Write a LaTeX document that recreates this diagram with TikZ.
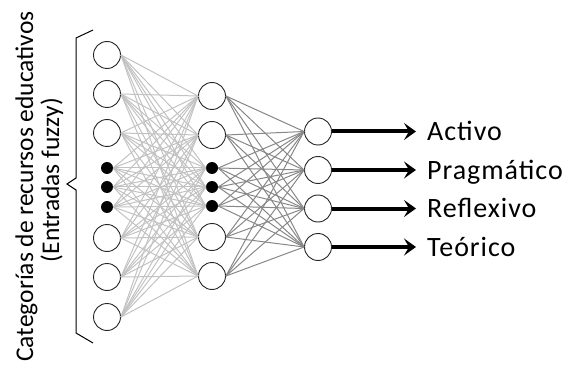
\documentclass[tikz,border=0pt]{standalone}
\usepackage{fontspec}
\setmainfont{Carlito}
\usetikzlibrary{arrows.meta}
\begin{document}
\begin{tikzpicture}[x=1pt,y=-1pt,
  neuron/.style={circle,draw=black!85,line width=0.9pt,minimum size=27pt,inner sep=0pt,fill=white},
  dotn/.style={circle,fill=black,minimum size=12pt,inner sep=0pt},
  lightw/.style={draw=black!24,line width=1pt},
  darkw/.style={draw=black!47,line width=1pt},
  outarrow/.style={line width=4pt,-{Stealth[length=12pt,width=17pt,inset=5pt]}},
  lbl/.style={anchor=base west,inner sep=0pt,font=\fontsize{28}{32}\selectfont\addfontfeatures{LetterSpace=3.5}},
  vlbl/.style={rotate=90,anchor=base,inner sep=0pt,font=\fontsize{25.5}{28}\selectfont},
  bracestyle/.style={draw=black,line width=1pt}
  ]
\useasboundingbox (0,0) rectangle (575,366);
% input layer
\node[neuron] (i1) at (107,55) {};
\node[neuron] (i2) at (107,94) {};
\node[neuron] (i3) at (107,133) {};
\node[dotn]   (i4) at (107,168) {};
\node[dotn]   (i5) at (107,187) {};
\node[dotn]   (i6) at (107,207) {};
\node[neuron] (i7) at (107,238) {};
\node[neuron] (i8) at (107,277) {};
\node[neuron] (i9) at (107,317) {};
% hidden layer
\node[neuron] (h1) at (212,96) {};
\node[neuron] (h2) at (212,135) {};
\node[dotn]   (h3) at (212,168) {};
\node[dotn]   (h4) at (212,187) {};
\node[dotn]   (h5) at (212,206) {};
\node[neuron] (h6) at (212,237) {};
\node[neuron] (h7) at (212,276) {};
% output layer
\node[neuron] (o1) at (318,131.5) {};
\node[neuron] (o2) at (318,170) {};
\node[neuron] (o3) at (318,208.5) {};
\node[neuron] (o4) at (318,247) {};
% connections
\foreach \a in {1,...,9}{
  \foreach \b in {1,...,7}{
    \draw[lightw] (i\a.east) -- (h\b.west);
  }
}
\foreach \a in {1,...,7}{
  \foreach \b in {1,...,4}{
    \draw[darkw] (h\a.east) -- (o\b.west);
  }
}
% outputs
\node[lbl] (l1) at (427,140.5) {Activo};
\node[lbl] (l2) at (427,179) {Pragmático};
\node[lbl] (l3) at (427,217.5) {Reflexivo};
\node[lbl] (l4) at (427,256) {Teórico};
\coordinate (t1) at (416,131.5);
\coordinate (t2) at (416,170);
\coordinate (t3) at (416,208.5);
\coordinate (t4) at (416,247);
\foreach \k in {1,...,4}{
  \draw[outarrow] (o\k.east) -- (t\k);
}
% brace
\coordinate (b1) at (93,30);
\coordinate (b2) at (76,38);
\coordinate (b3) at (76,178);
\coordinate (b4) at (67,184);
\coordinate (b5) at (76,190);
\coordinate (b6) at (76,333);
\coordinate (b7) at (93,343);
\draw[bracestyle] (b1) -- (b2) -- (b3) -- (b4) -- (b5) -- (b6) -- (b7);
% vertical labels
\node[vlbl] (v1) at (33,186.5) {Categorías de recursos educativos};
\node[vlbl] (v2) at (59,180) {(Entradas fuzzy)};
\end{tikzpicture}
\end{document}
